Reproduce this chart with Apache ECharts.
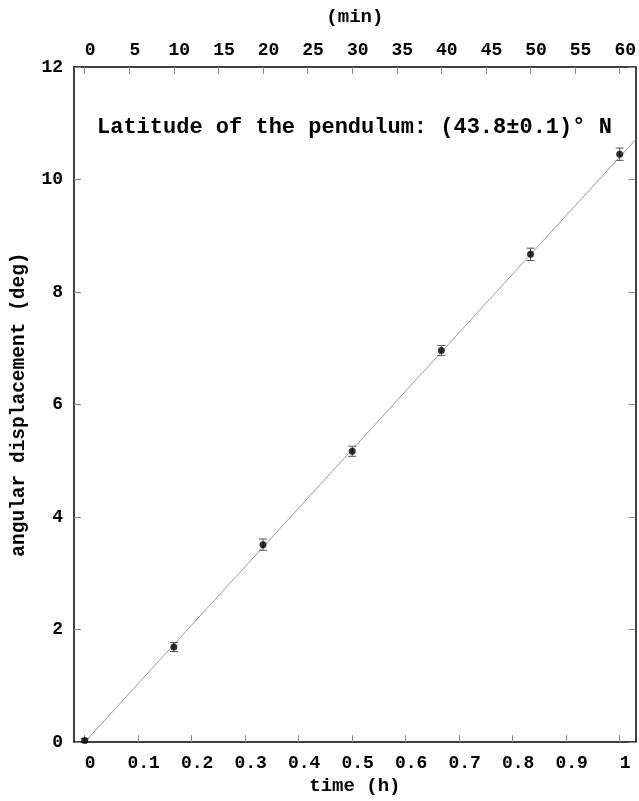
<!DOCTYPE html>
<html>
<head>
<meta charset="utf-8">
<script src="https://cdn.jsdelivr.net/npm/echarts@6/dist/echarts.min.js"></script>
<style>html,body{margin:0;padding:0;background:#fff}#c{width:639px;height:801px}</style>
</head>
<body>
<div id="c"></div>
<script>
// data
const timeHours = [0, 1/6, 2/6, 3/6, 4/6, 5/6, 1];
const angleDeg = [0.03, 1.69, 3.51, 5.17, 6.96, 8.67, 10.45];
const angleErr = [0.03, 0.08, 0.10, 0.09, 0.09, 0.11, 0.11];
const fitSlope = 10.40; // deg per hour, fit through origin
const bottomTicks = [0, 0.1, 0.2, 0.3, 0.4, 0.5, 0.6, 0.7, 0.8, 0.9, 1];
const topTicks = [0, 5, 10, 15, 20, 25, 30, 35, 40, 45, 50, 55, 60];
const xMinH = -0.02, xMaxH = 1.03;
const titleText = 'Latitude of the pendulum: (43.8\u00b10.1)\u00b0 N';

const FONT = '"Liberation Mono", "DejaVu Sans Mono", monospace';
const chart = echarts.init(document.getElementById('c'), null, {renderer: 'canvas'});

const points = timeHours.map((t, i) => [t, angleDeg[i]]);
const errData = timeHours.map((t, i) => [t, angleDeg[i] - angleErr[i], angleDeg[i] + angleErr[i]]);
const fitData = [[0, 0], [xMaxH, fitSlope * xMaxH]];

const tickStyle = {show: true, inside: true, length: 7, lineStyle: {color: '#888', width: 1}};
const lineStyleAxis = {show: true, onZero: false, lineStyle: {color: '#000', width: 1.5}};
const labelStyle = {color: '#000', fontFamily: FONT, fontSize: 18, fontWeight: 'bold'};
const nameStyle = {color: '#000', fontFamily: FONT, fontSize: 19, fontWeight: 'bold'};

chart.setOption({
  animation: false,
  backgroundColor: '#fff',
  graphic: [{
    type: 'text', left: 97, top: 116,
    style: {text: titleText, fill: '#000', font: 'bold 22px ' + FONT}
  }],
  grid: {left: 74, right: 1, top: 67, bottom: 52, containLabel: false},
  xAxis: [{
    type: 'value', position: 'bottom', min: xMinH, max: xMaxH,
    name: 'time (h)', nameLocation: 'middle', nameGap: 28,
    nameTextStyle: nameStyle,
    axisLine: lineStyleAxis,
    axisTick: Object.assign({customValues: bottomTicks}, tickStyle),
    axisLabel: Object.assign({customValues: bottomTicks, margin: 12, padding: [0, 0, 0, 11],
      formatter: v => String(Math.round(v * 10) / 10)}, labelStyle),
    splitLine: {show: false}
  }, {
    type: 'value', position: 'top', min: xMinH * 60, max: xMaxH * 60,
    name: '(min)', nameLocation: 'middle', nameGap: 40,
    nameTextStyle: nameStyle,
    axisLine: lineStyleAxis,
    axisTick: Object.assign({customValues: topTicks}, tickStyle),
    axisLabel: Object.assign({customValues: topTicks, margin: 8, padding: [0, 0, 0, 11]}, labelStyle),
    splitLine: {show: false}
  }],
  yAxis: [{
    type: 'value', position: 'left', min: 0, max: 12, interval: 2,
    name: 'angular displacement (deg)', nameLocation: 'middle', nameGap: 45,
    nameTextStyle: Object.assign({}, nameStyle, {fontSize: 19.5}),
    axisLine: lineStyleAxis,
    axisTick: tickStyle,
    axisLabel: Object.assign({margin: 11}, labelStyle),
    splitLine: {show: false}
  }, {
    type: 'value', position: 'right', min: 0, max: 12, interval: 2,
    axisLine: lineStyleAxis,
    axisTick: tickStyle,
    axisLabel: {show: false},
    splitLine: {show: false}
  }],
  series: [{
    type: 'line', data: fitData, showSymbol: false, symbol: 'none',
    lineStyle: {color: '#999', width: 1}, z: 1, silent: true
  }, {
    type: 'custom', data: errData, z: 2,
    renderItem: function (params, api) {
      const x = api.value(0);
      const lo = api.coord([x, api.value(1)]);
      const hi = api.coord([x, api.value(2)]);
      const w = 4;
      const st = {stroke: '#555', lineWidth: 1};
      return {type: 'group', children: [
        {type: 'line', shape: {x1: lo[0], y1: lo[1], x2: hi[0], y2: hi[1]}, style: st},
        {type: 'line', shape: {x1: lo[0] - w, y1: lo[1], x2: lo[0] + w, y2: lo[1]}, style: st},
        {type: 'line', shape: {x1: hi[0] - w, y1: hi[1], x2: hi[0] + w, y2: hi[1]}, style: st}
      ]};
    }
  }, {
    type: 'scatter', data: points, symbol: 'circle', symbolSize: 7,
    itemStyle: {color: '#000'}, z: 3
  }]
});
</script>
</body>
</html>
